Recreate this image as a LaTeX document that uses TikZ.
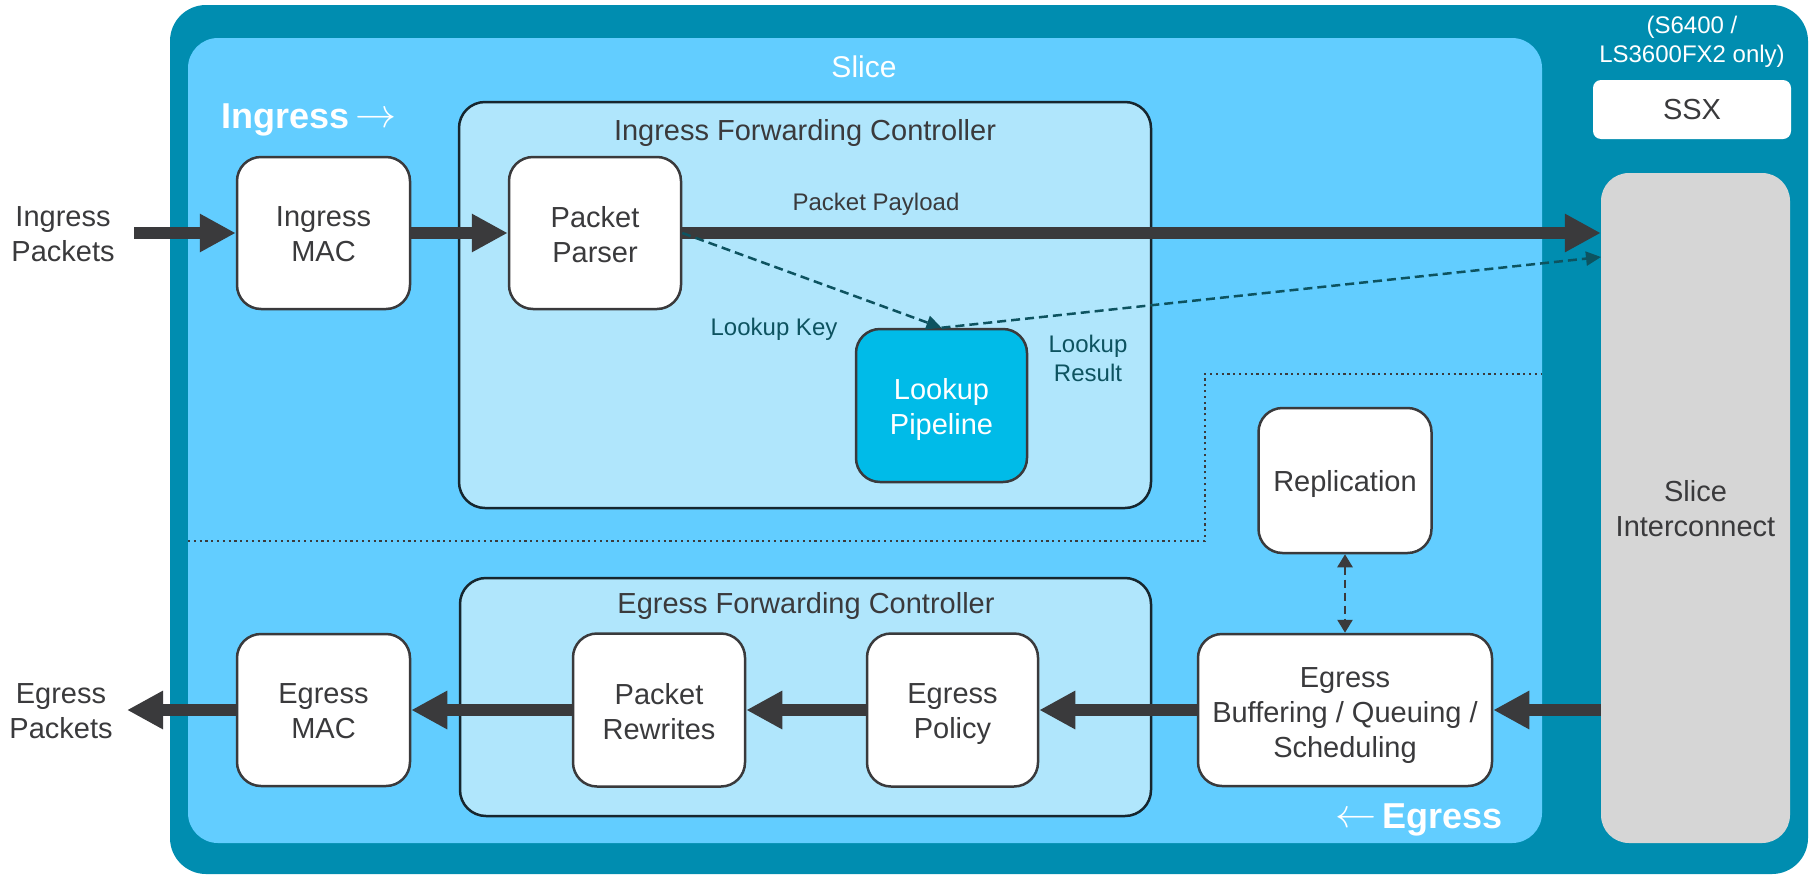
\documentclass[tikz,border=0pt]{standalone}
\usepackage{fontspec}
\usepackage{graphicx}
\setmainfont{Liberation Sans}
\usetikzlibrary{arrows.meta}
\definecolor{outerteal}{HTML}{008DB0}
\definecolor{slicebg}{HTML}{62CDFF}
\definecolor{fcbg}{HTML}{B0E6FC}
\definecolor{fcline}{HTML}{16262E}
\definecolor{lookupbg}{HTML}{00BBE8}
\definecolor{sibg}{HTML}{D6D6D6}
\definecolor{ink}{HTML}{3A3A3C}
\definecolor{dteal}{HTML}{0D5360}
% balanced struts: top of first line and bottom of last line
\newcommand{\topstrut}{\rule{0pt}{27.5pt}}
\newcommand{\botstrut}{\rule[-6.5pt]{0pt}{6.5pt}}

\begin{document}
\begin{tikzpicture}[x=1pt,y=-1pt,
  unit/.style={draw=ink, line width=2.5pt, fill=white, rounded corners=24pt,
    minimum width=173pt, minimum height=152pt, inner sep=0pt},
  ctrl/.style={draw=fcline, line width=2.5pt, fill=fcbg, rounded corners=26pt, inner sep=0pt},
  flow/.style={draw=ink, line width=12pt, -{Triangle[length=36pt,width=36pt]}},
  lookupflow/.style={draw=dteal, line width=2.5pt, dash pattern=on 9pt off 5pt,
    -{Triangle[length=15pt,width=14pt]}},
  lbl/.style={align=center, text=ink, font=\fontsize{29}{35}\selectfont, inner sep=0pt,
    execute at begin node=\topstrut, execute at end node=\botstrut},
  small/.style={align=center, font=\fontsize{24}{29}\selectfont, inner sep=0pt},
  heading/.style={text=white, inner sep=0pt},
]
\useasboundingbox (0,0) rectangle (1810,876);

% chassis and slice
\fill[outerteal, rounded corners=36pt] (170,5) rectangle (1808,874);
\fill[slicebg, rounded corners=30pt] (188,38) rectangle (1542,843);
\node[heading, font=\fontsize{30}{36}\selectfont] (slicettl) at (864,67) {Slice};

% ingress / egress boundary
\draw[ink, line width=2.2pt, dash pattern=on 2.2pt off 3.6pt]
  (188,541) -- (1205,541) -- (1205,374) -- (1542,374);

% direction headings
\node[heading, anchor=base west] (ingttl) at (221,128)
  {\fontsize{36}{40}\selectfont\bfseries Ingress\hspace{6pt}\raisebox{1pt}{\scalebox{1.65}{$\rightarrow$}}};
\node[heading, anchor=base east] (egrttl) at (1503,828)
  {\fontsize{36}{40}\selectfont\raisebox{1pt}{\scalebox{1.65}{$\leftarrow$}}\hspace{6pt}\bfseries Egress};

% forwarding controllers
\node[ctrl, minimum width=692pt, minimum height=406pt] (ifc) at (805,305) {};
\node[lbl] (ifcttl) at (805,130) {Ingress Forwarding Controller};
\node[ctrl, minimum width=691pt, minimum height=238pt] (efc) at (805.5,697) {};
\node[lbl] (efcttl) at (806,603) {Egress Forwarding Controller};

% SSX and slice interconnect
\node[small, text=white] (ssxnote) at (1692,42) {(S6400 /\\LS3600FX2 only)};
\node[fill=white, rounded corners=8pt, minimum width=198pt, minimum height=59pt,
  inner sep=0pt, text=ink, font=\fontsize{29}{35}\selectfont] (ssx) at (1692,109.5) {SSX};
\node[fill=sibg, rounded corners=28pt, minimum width=189pt, minimum height=670pt,
  inner sep=0pt] (si) at (1695.5,508) {};
\node[lbl] (sittl) at (1695.5,512) {Slice\\Interconnect};

% functional units (boxes)
\node[unit] (imac) at (323.5,233) {};
\node[unit, minimum width=172pt] (pp) at (595,233) {};
\node[unit, fill=lookupbg, minimum width=171pt, minimum height=153pt] (lp) at (941.5,405.5) {};
\node[unit, minimum height=145pt] (rep) at (1345,480.5) {};
\node[unit, minimum width=294pt] (buf) at (1345,710) {};
\node[unit, minimum width=171pt, minimum height=153pt] (epol) at (952.5,710) {};
\node[unit, minimum width=172pt, minimum height=153pt] (prw) at (659,710) {};
\node[unit] (emac) at (323.5,710) {};

% functional units (names)
\node[lbl] (imac-t) at (imac.center) [yshift=-4.5pt] {Ingress\\MAC};
\node[lbl] (pp-t) at (pp.center) [yshift=-4.5pt] {Packet\\Parser};
\node[lbl, text=white] (lp-t) at (lp.center) [yshift=-4.5pt] {Lookup\\Pipeline};
\node[lbl] (rep-t) at (rep.center) {Replication};
\node[lbl] (buf-t) at (buf.center) [yshift=-5.5pt] {Egress\\Buffering / Queuing /\\Scheduling};
\node[lbl] (epol-t) at (epol.center) [yshift=-4.5pt] {Egress\\Policy};
\node[lbl] (prw-t) at (prw.center) [yshift=-4.5pt] {Packet\\Rewrites};
\node[lbl] (emac-t) at (emac.center) [yshift=-4.5pt] {Egress\\MAC};

% external ports
\node[lbl] (inpk) at (63,237) {Ingress\\Packets};
\node[lbl] (outpk) at (61,714) {Egress\\Packets};
\coordinate (inpt) at (134,233);
\coordinate (outpt) at (127,710);
\coordinate (siin) at (1601,257);

% labels on the ingress paths
\node[small, text=ink] (payl) at (876,204) {Packet Payload};
\node[small, text=dteal] (lkey) at (774,329) {Lookup Key};
\node[small, text=dteal] (lres) at (1088,358) {Lookup\\Result};

% ingress data path
\draw[flow] (inpt) -- (imac.west);
\draw[flow] (imac.east) -- (pp.west);
\draw[flow] (pp.east) -- (pp.east -| si.west);
\draw[lookupflow] (pp.east) -- (lp.north);
\draw[lookupflow] (lp.north) -- (siin);

% egress data path
\draw[flow] (buf.east -| si.west) -- (buf.east);
\draw[flow] (buf.west) -- (epol.east);
\draw[flow] (epol.west) -- (prw.east);
\draw[flow] (prw.west) -- (emac.east);
\draw[flow] (emac.west) -- (outpt);

% replication exchange
\draw[ink, line width=2.5pt, dash pattern=on 8pt off 5pt,
  {Triangle[length=13pt,width=15pt]}-{Triangle[length=13pt,width=15pt]}]
  (rep.south) -- (buf.north);
\end{tikzpicture}
\end{document}
